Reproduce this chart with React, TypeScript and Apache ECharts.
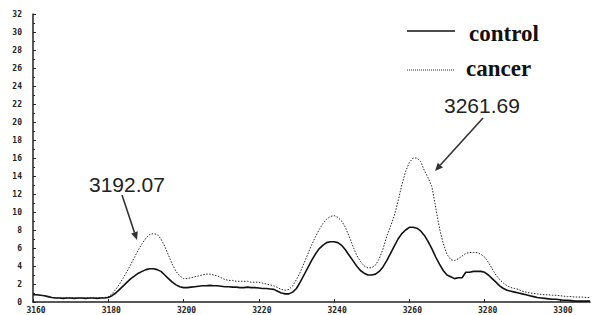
import React, { useEffect, useRef } from "react";
import * as echarts from "echarts";

const xStart = 3160;
const controlValues = [
  0.8, 0.8, 0.75, 0.7, 0.6, 0.5, 0.45, 0.45, 0.4, 0.45, 0.45, 0.4, 0.45, 0.45, 0.4, 0.45, 0.45, 0.4, 0.45, 0.45,
  0.5, 0.7, 1.0, 1.4, 1.8, 2.2, 2.6, 2.9, 3.2, 3.4, 3.6, 3.7, 3.7, 3.6, 3.4, 3.0, 2.6, 2.2, 1.9, 1.7,
  1.6, 1.6, 1.65, 1.7, 1.75, 1.8, 1.8, 1.85, 1.8, 1.8, 1.75, 1.7, 1.7, 1.65, 1.65, 1.6, 1.6, 1.65, 1.6, 1.6,
  1.55, 1.5, 1.5, 1.45, 1.4, 1.2, 1.0, 0.9, 0.9, 1.1, 1.5, 2.2, 3.0, 3.8, 4.6, 5.3, 5.9, 6.3, 6.6, 6.7,
  6.7, 6.6, 6.3, 5.8, 5.2, 4.6, 4.0, 3.5, 3.2, 3.0, 3.0, 3.1, 3.4, 3.9, 4.6, 5.4, 6.2, 7.0, 7.6, 8.0,
  8.3, 8.3, 8.2, 7.9, 7.4, 6.7, 5.9, 5.0, 4.2, 3.5, 3.0, 2.8, 2.6, 2.7, 2.7, 3.3, 3.3, 3.4, 3.4, 3.4,
  3.3, 3.0, 2.6, 2.2, 1.8, 1.5, 1.3, 1.2, 1.1, 1.0, 0.9, 0.8, 0.7, 0.6, 0.5, 0.45, 0.4, 0.35, 0.3, 0.3,
  0.25, 0.2, 0.2, 0.15, 0.1, 0.1, 0.1, 0.1, 0.1,
];
const cancerValues = [
  0.8, 0.8, 0.75, 0.7, 0.6, 0.5, 0.45, 0.45, 0.45, 0.45, 0.45, 0.45, 0.45, 0.45, 0.45, 0.45, 0.45, 0.45, 0.5, 0.5,
  0.6, 0.9, 1.4, 2.0, 2.7, 3.4, 4.2, 5.0, 5.8, 6.5, 7.1, 7.5, 7.6, 7.5, 7.0, 6.2, 5.2, 4.2, 3.4, 2.9,
  2.6, 2.6, 2.7, 2.8, 2.9, 3.0, 3.1, 3.1, 3.0, 2.9, 2.7, 2.5, 2.4, 2.4, 2.3, 2.3, 2.3, 2.3, 2.2, 2.2,
  2.2, 2.1, 2.0, 1.9, 1.8, 1.6, 1.4, 1.3, 1.4, 1.8, 2.5, 3.3, 4.3, 5.3, 6.3, 7.2, 8.0, 8.7, 9.2, 9.5,
  9.6, 9.4, 9.0, 8.3, 7.3, 6.2, 5.2, 4.5, 4.0, 3.8, 3.8, 4.1, 4.8, 5.9, 7.3, 8.4, 9.6, 11.2, 13.0, 14.5,
  15.5, 16.0, 16.0, 15.6, 14.6, 13.8, 12.8, 10.5, 8.2, 6.5, 5.3, 4.7, 4.6, 4.8, 5.1, 5.4, 5.5, 5.5, 5.5, 5.3,
  5.0, 4.4, 3.7, 3.0, 2.5, 2.1, 1.8, 1.6, 1.5, 1.4, 1.2, 1.1, 1.0, 0.95, 0.9, 0.85, 0.8, 0.8, 0.75, 0.75,
  0.7, 0.65, 0.6, 0.6, 0.55, 0.55, 0.55, 0.5, 0.5,
];
const seriesNames = ["control", "cancer"];
const peakLabels = ["3192.07", "3261.69"];

const toPairs = (vals: number[]) => vals.map((v, i) => [xStart + i, v]);

export default function App() {
  const ref = useRef<HTMLDivElement>(null);
  useEffect(() => {
    if (!ref.current) return;
    const chart = echarts.init(ref.current, null, { renderer: "svg" });
    const tickFont = {
      fontFamily: "DejaVu Sans Mono",
      fontWeight: "bold" as const,
      fontSize: 8,
      color: "#222",
    };
    const arrow = (x1: number, y1: number, x2: number, y2: number) => {
      const ang = Math.atan2(y2 - y1, x2 - x1);
      const L = 8, W = 3.5;
      const bx = x2 - L * Math.cos(ang), by = y2 - L * Math.sin(ang);
      const px = -Math.sin(ang) * W, py = Math.cos(ang) * W;
      return [
        { type: "line", shape: { x1, y1, x2: bx, y2: by }, style: { stroke: "#333", lineWidth: 1.6 } },
        {
          type: "polygon",
          shape: { points: [[x2, y2], [bx + px, by + py], [bx - px, by - py]] },
          style: { fill: "#333" },
        },
      ];
    };
    chart.setOption({
      animation: false,
      backgroundColor: "#ffffff",
      grid: { left: 33, right: 3, top: 14, bottom: 13 },
      xAxis: {
        type: "value",
        min: 3160,
        max: 3308,
        interval: 20,
        axisLine: { lineStyle: { color: "#222", width: 1.5 } },
        axisTick: { inside: true, length: 3, lineStyle: { color: "#222" } },
        axisLabel: {
          ...tickFont,
          margin: 4,
          showMaxLabel: false,
          padding: [0, 0, 0, 6],
          formatter: (v: number) => String(v),
        },
        splitLine: { show: false },
      },
      yAxis: {
        type: "value",
        min: 0,
        max: 32,
        interval: 2,
        axisLine: { show: true, lineStyle: { color: "#222", width: 1.5 } },
        axisTick: { show: true, inside: true, length: 3, lineStyle: { color: "#222" } },
        minorTick: { show: true, splitNumber: 2, length: 2, lineStyle: { color: "#222" } },
        axisLabel: { ...tickFont, margin: 11 },
        splitLine: { show: false },
      },
      series: [
        {
          name: seriesNames[0],
          type: "line",
          data: toPairs(controlValues),
          showSymbol: false,
          lineStyle: { color: "#111", width: 1.6 },
        },
        {
          name: seriesNames[1],
          type: "line",
          data: toPairs(cancerValues),
          showSymbol: false,
          lineStyle: { color: "#222", width: 1, type: [1.5, 1.5] },
        },
      ],
      graphic: [
        { type: "line", shape: { x1: 407, y1: 31, x2: 455, y2: 31 }, style: { stroke: "#111", lineWidth: 1.5 } },
        {
          type: "text",
          x: 469,
          y: 33,
          style: {
            text: seriesNames[0],
            font: "bold 23px 'Liberation Serif'",
            fill: "#111",
            verticalAlign: "middle",
          },
        },
        {
          type: "line",
          shape: { x1: 407, y1: 70, x2: 455, y2: 70 },
          style: { stroke: "#333", lineWidth: 1, lineDash: [1, 1] },
        },
        {
          type: "text",
          x: 466,
          y: 68,
          style: {
            text: seriesNames[1],
            font: "bold 23px 'Liberation Serif'",
            fill: "#111",
            verticalAlign: "middle",
          },
        },
        {
          type: "text",
          x: 89,
          y: 184,
          style: { text: peakLabels[0], font: "21px 'Liberation Sans'", fill: "#222", verticalAlign: "middle" },
        },
        {
          type: "text",
          x: 444,
          y: 105,
          style: { text: peakLabels[1], font: "21px 'Liberation Sans'", fill: "#222", verticalAlign: "middle" },
        },
        ...arrow(122, 195, 137, 240),
        ...arrow(483, 118, 435, 171),
      ],
    });
    return () => chart.dispose();
  }, []);
  return <div ref={ref} style={{ position: "fixed", left: 0, top: 0, width: 593, height: 315 }} />;
}
